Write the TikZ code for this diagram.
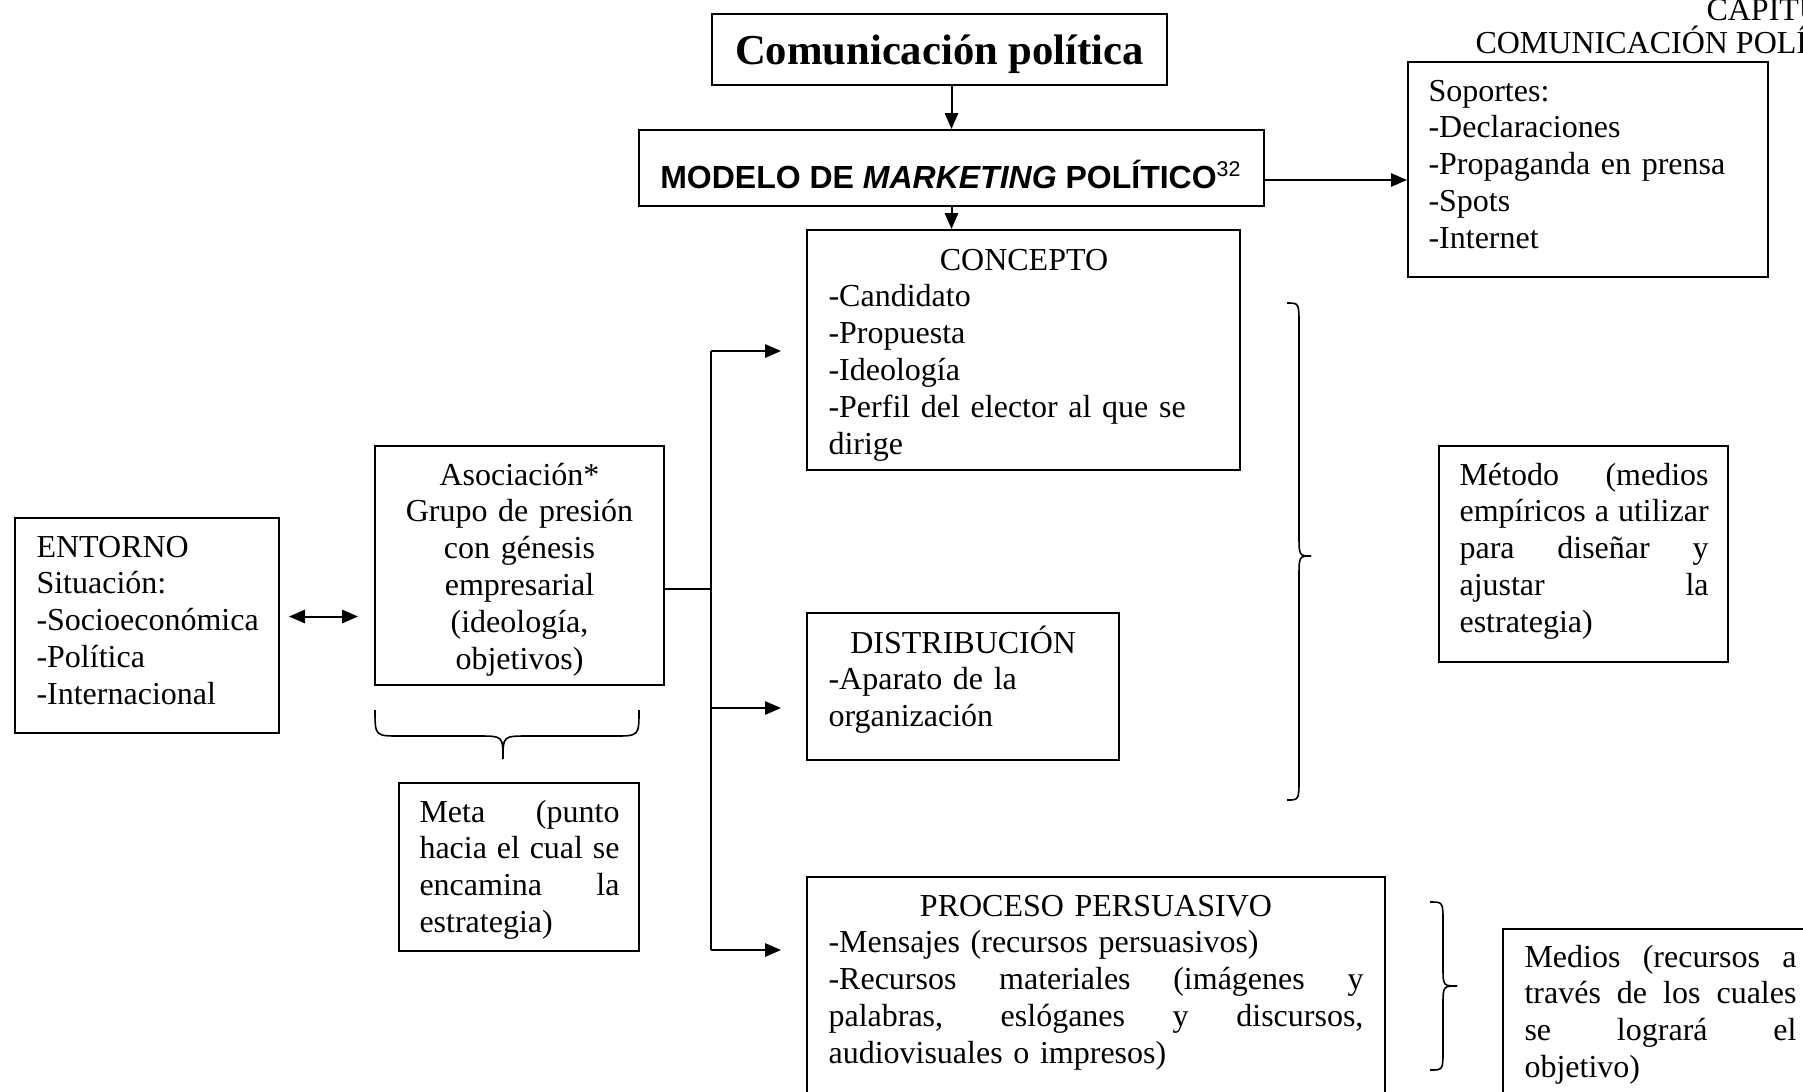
\documentclass[tikz,border=0pt]{standalone}
\usepackage{fontspec}
\setmainfont{Liberation Serif}
\newfontfamily\arialfont{Liberation Sans}
\usetikzlibrary{arrows.meta,fit,calc}
\newcommand{\jline}[1]{\makebox[\linewidth][s]{\spaceskip=0pt\xspaceskip=0pt #1}\\}
\newcommand{\boxtitle}[1]{\makebox[\linewidth][c]{#1}\\}
\tikzset{
  box/.style={draw, line width=0.75pt, inner sep=0pt},
  txt/.style={inner sep=0pt, font=\fontsize{12}{13.8}\selectfont, align=left},
  arr/.style={-{Triangle[length=6pt,width=5pt]}, line width=0.75pt},
  dblarr/.style={{Triangle[length=6pt,width=5pt]}-{Triangle[length=6pt,width=5pt]}, line width=0.75pt},
  brc/.style={line width=0.6pt},
}
\begin{document}
\begin{tikzpicture}[x=0.375pt,y=-0.375pt]
\useasboundingbox (0,0) rectangle (1803,1091);

% cajas
\node[box, fit={(712,14)(1167,85)}] (titulo) {};
\node[box, fit={(639,130)(1264,206)}] (modelo) {};
\node[box, fit={(1408,62)(1768,277)}] (soportes) {};
\node[box, fit={(807,230)(1240,470)}] (concepto) {};
\node[box, fit={(807,613)(1119,760)}] (distribucion) {};
\node[box, fit={(807,877)(1385,1130)}] (proceso) {};
\node[box, fit={(375,446)(664,685)}] (asociacion) {};
\node[box, fit={(15,518)(279,733)}] (entorno) {};
\node[box, fit={(399,783)(639,951)}] (meta) {};
\node[box, fit={(1439,446)(1728,662)}] (metodo) {};
\node[box, fit={(1503,929)(1850,1130)}] (medios) {};

% textos
\node[txt, anchor=base, font=\fontsize{16}{19}\selectfont\bfseries] at (939.5,64) {Comunicación política};
\node[txt, anchor=base, font=\arialfont\fontsize{12}{14}\selectfont\bfseries] at (951,188) {MODELO DE \textit{MARKETING} POLÍTICO\textsuperscript{\mdseries 32}};
\node[txt, anchor=base west] at (1706,20) {CAPITU};
\node[txt, anchor=base west] at (1475,53) {COMUNICACIÓN POLÍ};
\node[txt, anchor=base west, text width=125pt] at (1428,101) {Soportes:\\-Declaraciones\\-Propaganda en prensa\\-Spots\\-Internet};
\node[txt, anchor=base west, text width=146.6pt] at (828,270) {\boxtitle{CONCEPTO}-Candidato\\-Propuesta\\-Ideología\\-Perfil del elector al que se\\dirige};
\node[txt, anchor=base west, text width=101pt] at (828,653) {\boxtitle{DISTRIBUCIÓN}-Aparato de la\\organización};
\node[txt, anchor=base west, text width=200.6pt] at (828,916) {\boxtitle{PROCESO PERSUASIVO}-Mensajes (recursos persuasivos)\\\jline{-Recursos materiales (imágenes y}\jline{palabras, eslóganes y discursos,}audiovisuales o impresos)};
\node[txt, anchor=base, align=center, text width=100pt] at (519.5,485) {Asociación*\\Grupo de presión\\con génesis\\empresarial\\(ideología,\\objetivos)};
\node[txt, anchor=base west, text width=90pt] at (36,557) {ENTORNO\\Situación:\\-Socioeconómica\\-Política\\-Internacional};
\node[txt, anchor=base west, text width=93.4pt] at (1459,485) {\jline{Método (medios}\jline{empíricos a utilizar}\jline{para diseñar y}\jline{ajustar la}estrategia)};
\node[txt, anchor=base west, text width=75pt] at (419,822) {\jline{Meta (punto}\jline{hacia el cual se}\jline{encamina la}estrategia)};
\node[txt, anchor=base west, text width=102pt] at (1524,967) {\jline{Medios (recursos a}\jline{través de los cuales}\jline{se logrará el}objetivo)};

% flechas
\draw[arr] (modelo.north |- titulo.south) -- (modelo.north);
\draw[arr] (modelo.south) -- (modelo.south |- concepto.north);
\draw[arr] ($(modelo.east)+(0,12)$) -- ($(modelo.east -| soportes.west)+(0,12)$);
\draw[dblarr] ($(entorno.east)+(9,-9)$) -- ($(entorno.east -| asociacion.west)+(-16,-9)$);

\coordinate (junta) at (711,589);
\coordinate (rama1) at (711,351);
\coordinate (rama2) at (711,708);
\coordinate (rama3) at (711,950);
\draw[line width=0.75pt] (asociacion.east |- junta) -- (junta);
\draw[line width=0.75pt] (rama1) -- (rama3);
\draw[arr] (rama1) -- ($(rama1 -| concepto.west)+(-25,0)$);
\draw[arr] (rama2) -- ($(rama2 -| distribucion.west)+(-25,0)$);
\draw[arr] (rama3) -- ($(rama3 -| proceso.west)+(-25,0)$);

% llaves
\draw[brc] (375,710) .. controls (375,736) .. (400,736) -- (478,736)
  .. controls (503,736) .. (503,759) .. controls (503,736) .. (528,736)
  -- (614,736) .. controls (639,736) .. (639,710);
\draw[brc] (1287,303) .. controls (1299,303) .. (1299,325) -- (1299,534)
  .. controls (1299,556) .. (1311,556) .. controls (1299,556) .. (1299,578)
  -- (1299,778) .. controls (1299,800) .. (1287,800);
\draw[brc] (1430,902) .. controls (1443,902) .. (1443,922) -- (1443,966)
  .. controls (1443,986) .. (1457,986) .. controls (1443,986) .. (1443,1006)
  -- (1443,1050) .. controls (1443,1070) .. (1430,1070);
\end{tikzpicture}
\end{document}
